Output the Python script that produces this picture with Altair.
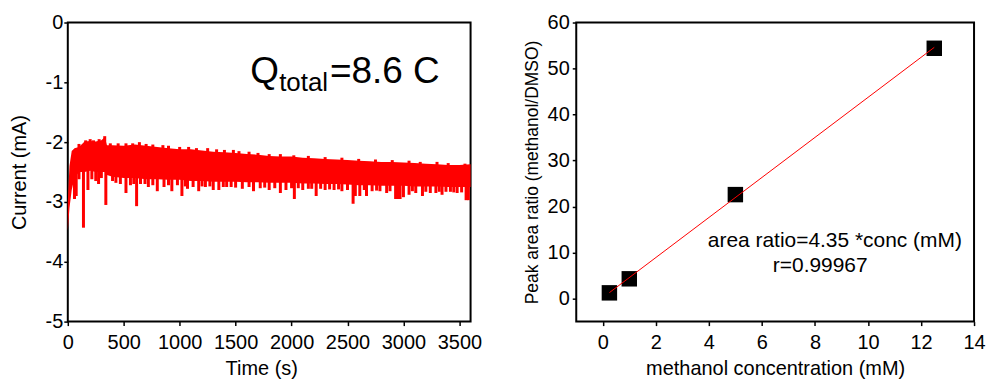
import altair as alt
import pandas as pd

# ---------------- Left panel: chronoamperometry trace ----------------
time_env = [0, 15, 35, 60, 100, 150, 200, 250, 300, 330, 350, 400, 500, 600, 700, 800,
            900, 1000, 1100, 1200, 1300, 1400, 1500, 1600, 1700, 1800, 1900, 2000, 2100,
            2200, 2300, 2400, 2500, 2600, 2700, 2800, 2900, 3000, 3100, 3200, 3300, 3400,
            3500, 3600]
upper_env = [-3.0, -2.4, -2.15, -2.1, -2.08, -1.99, -1.98, -1.99, -1.97, -1.92, -2.05, -2.05,
             -2.06, -2.04, -2.06, -2.08, -2.1, -2.12, -2.12, -2.14, -2.16, -2.17, -2.18, -2.2,
             -2.21, -2.23, -2.24, -2.24, -2.26, -2.27, -2.28, -2.29, -2.3, -2.31, -2.32, -2.33,
             -2.33, -2.34, -2.35, -2.36, -2.37, -2.38, -2.38, -2.37]
lower_env = [-3.48, -3.1, -2.8, -2.6, -2.5, -2.5, -2.48, -2.5, -2.5, -2.5, -2.55, -2.58,
             -2.6, -2.6, -2.62, -2.62, -2.63, -2.63, -2.65, -2.65, -2.66, -2.66, -2.66, -2.67,
             -2.67, -2.68, -2.68, -2.68, -2.69, -2.69, -2.7, -2.7, -2.71, -2.72, -2.72, -2.73,
             -2.73, -2.73, -2.74, -2.74, -2.74, -2.75, -2.75, -2.75]

spike_down_t = [60, 75, 100, 140, 180, 215, 250, 275, 300, 340, 400, 430, 470, 520, 560, 590,
                615, 650, 690, 720, 760, 800, 860, 900, 930, 980, 1020, 1050, 1070, 1120, 1170,
                1200, 1230, 1270, 1300, 1350, 1390, 1420, 1460, 1500, 1560, 1620, 1660, 1720,
                1760, 1800, 1850, 1900, 1950, 2000, 2025, 2060, 2100, 2150, 2180, 2220, 2260,
                2300, 2340, 2380, 2420, 2450, 2500, 2550, 2570, 2610, 2650, 2670, 2720, 2760,
                2790, 2850, 2880, 2930, 2950, 2970, 3000, 3050, 3080, 3110, 3170, 3200, 3240,
                3290, 3320, 3345, 3380, 3420, 3450, 3480, 3520, 3560, 3580]
spike_down_v = [-2.95, -2.9, -2.62, -3.43, -2.8, -2.62, -2.65, -2.7, -2.6, -3.05, -2.65, -2.68,
                -2.7, -2.85, -2.72, -2.7, -3.07, -2.7, -2.7, -2.75, -2.72, -2.82, -2.75, -2.72,
                -2.82, -2.72, -2.9, -2.74, -2.78, -2.75, -2.82, -2.74, -2.75, -2.74, -2.8, -2.8,
                -2.75, -2.75, -2.75, -2.76, -2.78, -2.75, -2.82, -2.77, -2.76, -2.8, -2.77,
                -2.85, -2.8, -2.77, -2.95, -2.77, -2.8, -2.78, -2.78, -2.9, -2.78, -2.8, -2.79,
                -2.8, -2.79, -2.82, -2.8, -3.03, -2.9, -2.9, -2.8, -2.9, -2.82, -2.81, -2.82,
                -2.85, -2.82, -2.95, -2.95, -2.95, -2.92, -2.88, -2.82, -2.85, -2.9, -2.83,
                -2.85, -2.85, -2.83, -2.88, -2.83, -2.83, -2.84, -2.85, -2.84, -2.97, -2.97]
spike_up_t = [100, 160, 200, 230, 280, 330, 380, 450, 520, 580, 640, 700, 760, 850, 900, 1000,
              1080, 1150, 1250, 1330, 1400, 1480, 1530, 1620, 1700, 1800, 1900, 2020, 2150,
              2300, 2450, 2600, 2750, 2900, 3050, 3150, 3300, 3400, 3550]
spike_up_v = [-2.03, -1.97, -1.95, -1.97, -1.95, -1.9, -2.02, -2.02, -2.02, -2.02, -2.0, -2.03,
              -2.04, -2.05, -2.06, -2.08, -2.08, -2.1, -2.1, -2.12, -2.13, -2.13, -2.15, -2.16,
              -2.18, -2.2, -2.2, -2.22, -2.23, -2.25, -2.26, -2.28, -2.29, -2.3, -2.31, -2.33,
              -2.33, -2.35, -2.36]

time_ticks = [0, 500, 1000, 1500, 2000, 2500, 3000, 3500]
current_ticks = [-5, -4, -3, -2, -1, 0]

# ---------------- Right panel: calibration ----------------
conc = [0.25, 1, 5, 12.5]
ratio = [1.25, 4.3, 22.6, 54.4]
fit_x = [0.25, 12.5]
fit_y = [1.3, 54.6]
conc_ticks = [0, 2, 4, 6, 8, 10, 12, 14]
ratio_ticks = [0, 10, 20, 30, 40, 50, 60]
annot_text = ["area ratio=4.35 *conc (mM)", "r=0.99967"]
annot_x = [8.75, 8.2]
annot_y = [12.6, 7.0]

FONT = "Liberation Sans"
RED = "#ff0000"

env = pd.DataFrame({"t": time_env, "hi": upper_env, "lo": lower_env})
down = pd.DataFrame({"t": spike_down_t, "v": spike_down_v})
up = pd.DataFrame({"t": spike_up_t, "v": spike_up_v})

xs = alt.Scale(domain=[0, 3600], nice=False, zero=False)
ys = alt.Scale(domain=[-5, 0], nice=False, zero=False)

x_axis_l = alt.Axis(values=time_ticks, title="Time (s)", titleX=194, labelPadding=6.5,
                    titlePadding=7, labelFlush=False, labelOverlap=False, format="d")
y_axis_l = alt.Axis(values=current_ticks, title="Current (mA)", labelPadding=1,
                    titlePadding=16, labelFlush=False, labelOverlap=False,
                    labelExpr="'' + datum.value")

band = alt.Chart(env).mark_area(color=RED, opacity=1).encode(
    x=alt.X("t:Q", scale=xs, axis=x_axis_l),
    y=alt.Y("hi:Q", scale=ys, axis=y_axis_l),
    y2="lo:Q",
)
down_rules = alt.Chart(down).mark_rule(color=RED, strokeWidth=3).encode(
    x="t:Q", y="v:Q", y2=alt.datum(-2.45)
)
up_rules = alt.Chart(up).mark_rule(color=RED, strokeWidth=3).encode(
    x="t:Q", y="v:Q", y2=alt.datum(-2.4)
)

qdf = pd.DataFrame({"a": [0]})
q1 = alt.Chart(qdf).mark_text(text="Q", font=FONT, fontSize=37, align="left",
                              baseline="alphabetic", color="black").encode(
    x=alt.value(183), y=alt.value(61))
q2 = alt.Chart(qdf).mark_text(text="total", font=FONT, fontSize=26, align="left",
                              baseline="alphabetic", color="black").encode(
    x=alt.value(212), y=alt.value(69))
q3 = alt.Chart(qdf).mark_text(text="=8.6 C", font=FONT, fontSize=37, align="left",
                              baseline="alphabetic", color="black").encode(
    x=alt.value(263), y=alt.value(61))

left = alt.layer(band, down_rules, up_rules, q1, q2, q3).properties(width=404, height=300)

# right
pts = pd.DataFrame({"c": conc, "r": ratio})
fit = pd.DataFrame({"c": fit_x, "r": fit_y})
ann = pd.DataFrame({"txt": annot_text, "c": annot_x, "r": annot_y})

xs2 = alt.Scale(domain=[-1, 14], nice=False, zero=False)
ys2 = alt.Scale(domain=[-5, 60], nice=False, zero=False)

x_axis_r = alt.Axis(values=conc_ticks, title="methanol concentration (mM)", labelPadding=6.5,
                    titlePadding=7, labelFlush=False, labelOverlap=False)
y_axis_r = alt.Axis(values=ratio_ticks, title="Peak area ratio (methanol/DMSO)",
                    titleFontSize=17.5, labelPadding=3, titlePadding=6,
                    labelFlush=False, labelOverlap=False)

points = alt.Chart(pts).mark_point(shape="square", filled=True, size=240, color="black",
                                   opacity=1).encode(
    x=alt.X("c:Q", scale=xs2, axis=x_axis_r),
    y=alt.Y("r:Q", scale=ys2, axis=y_axis_r),
)
fitline = alt.Chart(fit).mark_line(color=RED, strokeWidth=1).encode(x="c:Q", y="r:Q")
texts = alt.Chart(ann).mark_text(font=FONT, fontSize=21, align="center", baseline="middle",
                                 color="black").encode(x="c:Q", y="r:Q", text="txt:N")

right = alt.layer(points, fitline, texts).properties(width=399, height=300)

chart = alt.hconcat(left, right, spacing=106, bounds="flush").properties(
    padding={"left": 8, "top": 11, "right": 1, "bottom": 2},
    background="white",
).configure_view(stroke="black", strokeWidth=2).configure_axis(
    labelFont=FONT, labelFontSize=20, titleFont=FONT, titleFontSize=20,
    titleFontWeight="normal", labelColor="black", titleColor="black",
    tickColor="black", tickSize=4, tickWidth=1.5, domain=False, grid=False,
)

chart.save("out.html", embed_options={"renderer": "svg", "actions": False})
